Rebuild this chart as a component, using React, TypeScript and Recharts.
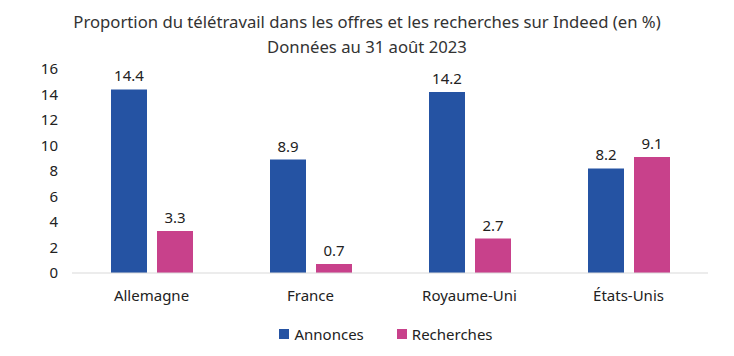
import { BarChart, Bar, XAxis, YAxis, Legend, LabelList } from 'recharts';

const countries = ['Allemagne', 'France', 'Royaume-Uni', 'États-Unis'];
const annonces = [14.4, 8.9, 14.2, 8.2];
const recherches = [3.3, 0.7, 2.7, 9.1];
const yTicks = [0, 2, 4, 6, 8, 10, 12, 14, 16];

const FONT = '"Noto Sans", "Open Sans", sans-serif';
const BLUE = '#2553a3';
const PINK = '#c8418b';

const data = countries.map((c, i) => ({ country: c, annonces: annonces[i], recherches: recherches[i] }));

function LegendBox({ payload }: any) {
  return (
    <div style={{ display: 'flex', justifyContent: 'center', gap: 33, fontFamily: FONT, fontSize: 15, color: '#222' }}>
      {payload.map((p: any) => (
        <div key={p.value} style={{ display: 'flex', alignItems: 'center', gap: 5 }}>
          <div style={{ width: 10, height: 10, background: p.color }} />
          <span>{p.value}</span>
        </div>
      ))}
    </div>
  );
}

export default function App() {
  return (
    <div style={{ position: 'absolute', left: 0, top: 0, width: 734, height: 356, background: '#fff', fontFamily: FONT }}>
      <div style={{ position: 'absolute', top: 9, width: 734, textAlign: 'center', fontSize: 16.7, lineHeight: '25px', color: '#333' }}>
        Proportion du télétravail dans les offres et les recherches sur Indeed (en %)<br />
        Données au 31 août 2023
      </div>
      <BarChart width={734} height={356} data={data}
        margin={{ top: 69, right: 26, left: 0, bottom: 12 }}
        barCategoryGap="24%" barGap={10}>
        <YAxis domain={[0, 16]} ticks={yTicks} axisLine={false} tickLine={false} tickSize={0} tickMargin={14} width={72}
          tick={{ fontFamily: FONT, fontSize: 15, fill: '#222' }} />
        <XAxis dataKey="country" axisLine={{ stroke: '#d9d9d9' }} tickLine={false} tickMargin={11} height={51}
          tick={{ fontFamily: FONT, fontSize: 15, fill: '#222' }} />
        <Legend verticalAlign="bottom" content={<LegendBox />} wrapperStyle={{ left: 72, width: 628 }} />
        <Bar dataKey="annonces" name="Annonces" fill={BLUE} barSize={36} isAnimationActive={false}>
          <LabelList dataKey="annonces" position="top" offset={8} style={{ fontFamily: FONT, fontSize: 15, fill: '#222' }} />
        </Bar>
        <Bar dataKey="recherches" name="Recherches" fill={PINK} barSize={36} isAnimationActive={false}>
          <LabelList dataKey="recherches" position="top" offset={8} style={{ fontFamily: FONT, fontSize: 15, fill: '#222' }} />
        </Bar>
      </BarChart>
    </div>
  );
}
